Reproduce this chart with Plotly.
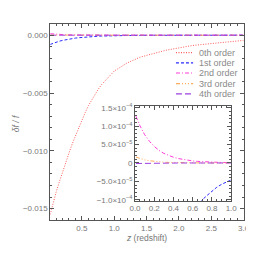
import plotly.graph_objects as go

W = H = 254

# ---- data ----
z = [0.01, 0.05, 0.1, 0.15, 0.2, 0.25, 0.3, 0.35, 0.4, 0.45, 0.5, 0.55, 0.6, 0.65,
     0.7, 0.75, 0.8, 0.85, 0.9, 0.95, 1.0, 1.2, 1.4, 1.6, 1.8, 2.0, 2.2, 2.4, 2.6, 2.8, 3.0]
order0 = [-0.0155, -0.0146, -0.0136, -0.0127, -0.0118, -0.0110, -0.0102, -0.0094, -0.0087,
          -0.0080, -0.0073, -0.0067, -0.0061, -0.0056, -0.0051, -0.0047, -0.0043, -0.0040,
          -0.0037, -0.0034, -0.0031, -0.0024, -0.0019, -0.0016, -0.0013, -0.0011, -0.0009,
          -0.00078, -0.00066, -0.00055, -0.00045]
order1 = [-0.00080, -0.00070, -0.00060, -0.00052, -0.00045, -0.00039, -0.00034, -0.00029,
          -0.00025, -0.00022, -0.00019, -0.00016, -0.00014, -0.00012, -0.00010, -0.000088,
          -0.000077, -0.000066, -0.000058, -0.000051, -0.000046, -0.000026, -0.000015,
          -0.000008, -0.000005, -0.000003, -0.000002, -0.000001, -0.0000006, -0.0000003, 0.0]
order2 = [1.27e-4, 1.02e-4, 7.7e-5, 5.9e-5, 4.5e-5, 3.4e-5, 2.6e-5, 2.0e-5, 1.55e-5, 1.2e-5,
          9.2e-6, 7.1e-6, 5.5e-6, 4.3e-6, 3.4e-6, 2.6e-6, 2.0e-6, 1.6e-6, 1.3e-6, 1.0e-6,
          8e-7, 4e-7, 2e-7, 1e-7, 5e-8, 0, 0, 0, 0, 0, 0]
order3 = [1.6e-5, 1.2e-5, 8.5e-6, 6.0e-6, 4.2e-6, 3.0e-6, 2.1e-6, 1.5e-6, 1.0e-6, 7e-7,
          5e-7, 3.5e-7, 2.5e-7, 1.8e-7, 1.2e-7, 8e-8, 5e-8, 3e-8, 2e-8, 1e-8, 0,
          0, 0, 0, 0, 0, 0, 0, 0, 0, 0]
order4 = [-1.5e-6, -1.2e-6, -9e-7, -7e-7, -5e-7, -4e-7, -3e-7, -2e-7, -1.5e-7, -1e-7,
          -7e-8, -5e-8, -3e-8, -2e-8, -1e-8, 0, 0, 0, 0, 0, 0,
          0, 0, 0, 0, 0, 0, 0, 0, 0, 0]

names = ["0th order", "1st order", "2nd order", "3rd order", "4th order"]
series = [order0, order1, order2, order3, order4]
colors = ["#ff5a5a", "#2a2aff", "#ff3ad8", "#ffad5c", "#a040e0"]
dashes = ["1px,1.5px", "3px,2px", "4px,2px,1px,2px", "4px,2px,1px,2px,1px,2px,1px,2px",
          "6px,3px"]

main_yticks = [0.0, -0.005, -0.010, -0.015]
main_xticks = [0.5, 1.0, 1.5, 2.0, 2.5, 3.0]
inset_xticks = [0.0, 0.2, 0.4, 0.6, 0.8, 1.0]
inset_yticks = [-1.0e-4, -5.0e-5, 0.0, 5.0e-5, 1.0e-4, 1.5e-4]
inset_yticktext = ["\u22121.0\u00d710<sup>\u22124</sup>", "\u22125.0\u00d710<sup>\u22125</sup>", "0",
                   "5.0\u00d710<sup>\u22125</sup>", "1.0\u00d710<sup>\u22124</sup>",
                   "1.5\u00d710<sup>\u22124</sup>"]

fig = go.Figure()
for xa, ya in (("x", "y"), ("x2", "y2")):
    for nm, ys, c, d in zip(names, series, colors, dashes):
        fig.add_trace(go.Scatter(x=z, y=ys, mode="lines", name=nm, showlegend=False,
                                 line=dict(color=c, width=1, dash=d),
                                 xaxis=xa, yaxis=ya))

axcol = "#555555"
fam = "Liberation Sans, Arial, sans-serif"
tfont = dict(family=fam, size=8, color="#777777")
lfont = dict(family=fam, size=9, color="#8a8a8a")
xtfont = dict(family=fam, size=8.5, color="#777777")
common = dict(showline=True, linecolor=axcol, linewidth=1, mirror="ticks", ticks="inside",
              tickcolor=axcol, ticklen=4, tickwidth=1, showgrid=False, zeroline=False,
              tickfont=tfont)

px = lambda v: v / W
py = lambda v: 1 - v / H

fig.update_layout(
    width=W, height=H, margin=dict(l=0, r=0, t=0, b=0),
    paper_bgcolor="white", plot_bgcolor="rgba(0,0,0,0)",
    xaxis=dict(domain=[px(38), px(241)], range=[0.01, 3.0], tickvals=main_xticks,
               tickformat=".1f", minor=dict(dtick=0.1, ticks="inside", ticklen=2,
                                            tickcolor=axcol), anchor="y", **common),
    yaxis=dict(domain=[py(215), py(12)], range=[-0.016, 0.001], tickvals=main_yticks,
               tickformat=".3f", minor=dict(dtick=0.001, ticks="inside", ticklen=2,
                                            tickcolor=axcol), anchor="x", **common),
    xaxis2=dict(domain=[px(127), px(228)], range=[0.0, 1.0], tickvals=inset_xticks,
                tickformat=".1f", minor=dict(dtick=0.05, ticks="inside", ticklen=2,
                                             tickcolor=axcol), anchor="y2", **common),
    yaxis2=dict(domain=[py(195), py(97)], range=[-1.03e-4, 1.55e-4], tickvals=inset_yticks,
                ticktext=inset_yticktext, minor=dict(dtick=1e-5, ticks="inside", ticklen=2,
                                                     tickcolor=axcol), anchor="x2", **common),
)

shapes = []
annotations = []
leg_y = [42, 52.5, 63, 74, 84.5]
for nm, c, d, yy in zip(names, colors, dashes, leg_y):
    shapes.append(dict(type="line", xref="paper", yref="paper", x0=px(170), x1=px(188),
                       y0=py(yy), y1=py(yy), line=dict(color=c, width=1.2, dash=d)))
    annotations.append(dict(text=nm, xref="paper", yref="paper", x=px(192), y=py(yy),
                            xanchor="left", yanchor="middle", showarrow=False, font=lfont))
annotations.append(dict(text="<i>z</i> (redshift)", xref="paper", yref="paper", x=px(139),
                        y=py(233), xanchor="center", yanchor="middle", showarrow=False,
                        font=xtfont))
annotations.append(dict(text="<i>\u03b4f / f</i>", xref="paper", yref="paper", x=px(3),
                        y=py(115), xanchor="center", yanchor="middle", textangle=-90,
                        showarrow=False, font=xtfont))
fig.update_layout(shapes=shapes, annotations=annotations)

fig.write_html("out.html")
